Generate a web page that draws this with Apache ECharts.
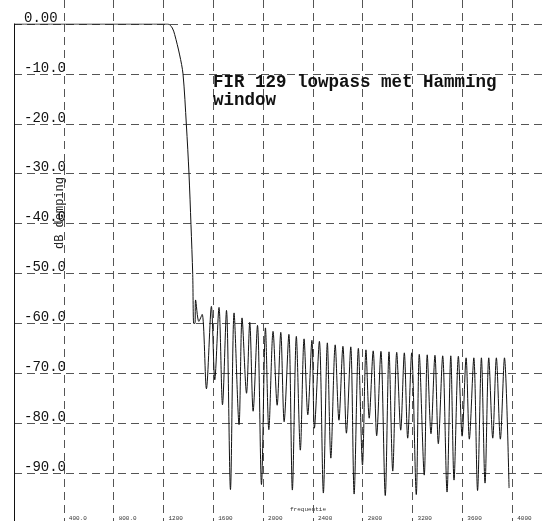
<!DOCTYPE html>
<html>
<head>
<meta charset="utf-8">
<script src="https://cdn.jsdelivr.net/npm/echarts@6.0.0/dist/echarts.min.js"></script>
<style>
  html, body { margin: 0; padding: 0; background: #fff; }
  #chart { width: 542px; height: 521px; }
</style>
</head>
<body>
<div id="chart"></div>
<script>
// doorlaatband + overgang (Hz, dB)
const passFreq = [0, 1236, 1271, 1290, 1330, 1357, 1384, 1405, 1421, 1435, 1443, 1453]
const passDb = [0, 0, -0.8, -2.1, -6.2, -10, -20.2, -30, -40.2, -50.2, -60, -60]

// zijlussen: toppen
const peakFreq = [1458, 1511, 1585, 1646, 1706, 1767, 1831, 1893, 1955, 2019, 2080, 2142, 2207, 2267,
  2329, 2392, 2452, 2516, 2579, 2641, 2704, 2765, 2826, 2884, 2946, 3011, 3073, 3134, 3193, 3254,
  3318, 3380, 3442, 3507, 3568, 3630, 3692, 3753, 3812, 3873, 3938]
const peakDb = [-55.3, -58.2, -56.6, -56.8, -57.4, -57.9, -58.9, -59.8, -60.4, -60.9, -61.6, -61.8,
  -62.2, -62.6, -63.1, -63.4, -63.6, -63.9, -64.3, -64.6, -64.7, -65.0, -65.3, -65.5, -65.6, -65.7,
  -65.8, -65.9, -65.9, -66.2, -66.3, -66.4, -66.5, -66.5, -66.6, -66.9, -66.9, -66.9, -66.9, -66.9, -66.9]

// zijlussen: nulpunten
const nullFreq = [1484, 1545, 1612, 1674, 1738, 1807, 1867, 1920, 1987, 2046, 2113, 2169, 2235, 2299,
  2359, 2412, 2484, 2544, 2609, 2669, 2731, 2798, 2852, 2912, 2981, 3041, 3105, 3161, 3230, 3294,
  3348, 3407, 3477, 3533, 3598, 3656, 3722, 3782, 3844, 3905, 3975]
const nullDb = [-59.6, -73.1, -71.3, -76.3, -93.3, -80.3, -74.0, -77.6, -92.3, -81.3, -76.4, -79.7,
  -93.4, -85.4, -78.3, -81.0, -94.0, -87.0, -79.4, -82.0, -94.2, -88.4, -79.0, -82.5, -94.5, -89.6,
  -81.4, -83.0, -94.3, -90.4, -82.1, -84.1, -93.8, -91.4, -82.6, -83.2, -93.5, -92.0, -83.0, -83.2, -93.0]

// as-labels
const xTicks = [400, 800, 1200, 1600, 2000, 2400, 2800, 3200, 3600, 4000]
const xTickLabels = ['400.0', '800.0', '1200', '1600', '2000', '2400', '2800', '3200', '3600', '4000']
const yTicks = [0, -10, -20, -30, -40, -50, -60, -70, -80, -90]
const yTickLabels = ['0.00', '-10.0', '-20.0', '-30.0', '-40.0', '-50.0', '-60.0', '-70.0', '-80.0', '-90.0']

const curve = passFreq.map((f, i) => [f, passDb[i]])
peakFreq.forEach((f, i) => {
  curve.push([f, peakDb[i]])
  curve.push([nullFreq[i], nullDb[i]])
})

const gridDash = { show: true, showMinLine: false, lineStyle: { color: '#555', width: 1, type: [8, 5] } }

const chart = echarts.init(document.getElementById('chart'))
chart.setOption({
  animation: false,
  backgroundColor: '#fff',
  title: {
    text: 'FIR 129 lowpass met Hamming\nwindow',
    left: 213,
    top: 74,
    padding: 0,
    textStyle: {
      fontFamily: 'Liberation Mono',
      fontWeight: 'bold',
      fontSize: 17.5,
      lineHeight: 18,
      color: '#111'
    }
  },
  graphic: [
    {
      type: 'text',
      x: 60,
      y: 213,
      rotation: Math.PI / 2,
      style: {
        text: 'dB demping',
        font: '12px "Liberation Mono"',
        fill: '#222',
        align: 'center',
        verticalAlign: 'middle',
        textAlign: 'center',
        textVerticalAlign: 'middle'
      }
    },
    {
      type: 'text',
      x: 308,
      y: 509,
      style: {
        text: 'frequentie',
        font: '6px "Liberation Mono"',
        fill: '#333',
        align: 'center',
        verticalAlign: 'middle',
        textAlign: 'center',
        textVerticalAlign: 'middle'
      }
    }
  ],
  grid: [
    { left: 14, top: 24, width: 548, height: 499, outerBoundsMode: 'none' },
    { left: 14, top: 0, width: 548, height: 24, outerBoundsMode: 'none' }
  ],
  xAxis: [
    {
      type: 'value',
      gridIndex: 0,
      min: 0,
      max: 4400,
      interval: 400,
      axisLine: { show: false },
      axisTick: { show: false },
      splitLine: gridDash,
      axisLabel: {
        inside: true,
        margin: 5,
        align: 'left',
        verticalAlign: 'middle',
        padding: [0, 0, 0, 5],
        fontFamily: 'Liberation Mono',
        fontSize: 6,
        color: '#333',
        formatter: v => {
          const i = xTicks.indexOf(v)
          return i < 0 ? '' : xTickLabels[i]
        }
      }
    },
    {
      type: 'value',
      gridIndex: 1,
      min: 0,
      max: 4400,
      interval: 400,
      axisLine: { show: false },
      axisTick: { show: false },
      axisLabel: { show: false },
      splitLine: gridDash
    }
  ],
  yAxis: [
    {
      type: 'value',
      gridIndex: 0,
      min: -100,
      max: 0,
      interval: 10,
      axisLine: { show: true, lineStyle: { color: '#111', width: 1 } },
      axisTick: { show: false },
      splitLine: { show: true, showMinLine: false, lineStyle: { color: '#555', width: 1, type: [8, 5] } },
      axisLabel: {
        inside: true,
        margin: 10,
        align: 'left',
        verticalAlign: 'bottom',
        lineHeight: 12,
        fontFamily: 'Liberation Mono',
        fontSize: 14,
        color: '#111',
        formatter: v => {
          const i = yTicks.indexOf(v)
          return i < 0 ? '' : yTickLabels[i]
        }
      }
    },
    {
      type: 'value',
      gridIndex: 1,
      min: 0,
      max: 1,
      show: false
    }
  ],
  series: [
    {
      type: 'line',
      xAxisIndex: 0,
      yAxisIndex: 0,
      data: curve,
      symbol: 'none',
      smooth: 0.3,
      lineStyle: { color: '#111', width: 1 }
    }
  ]
})
</script>
</body>
</html>
